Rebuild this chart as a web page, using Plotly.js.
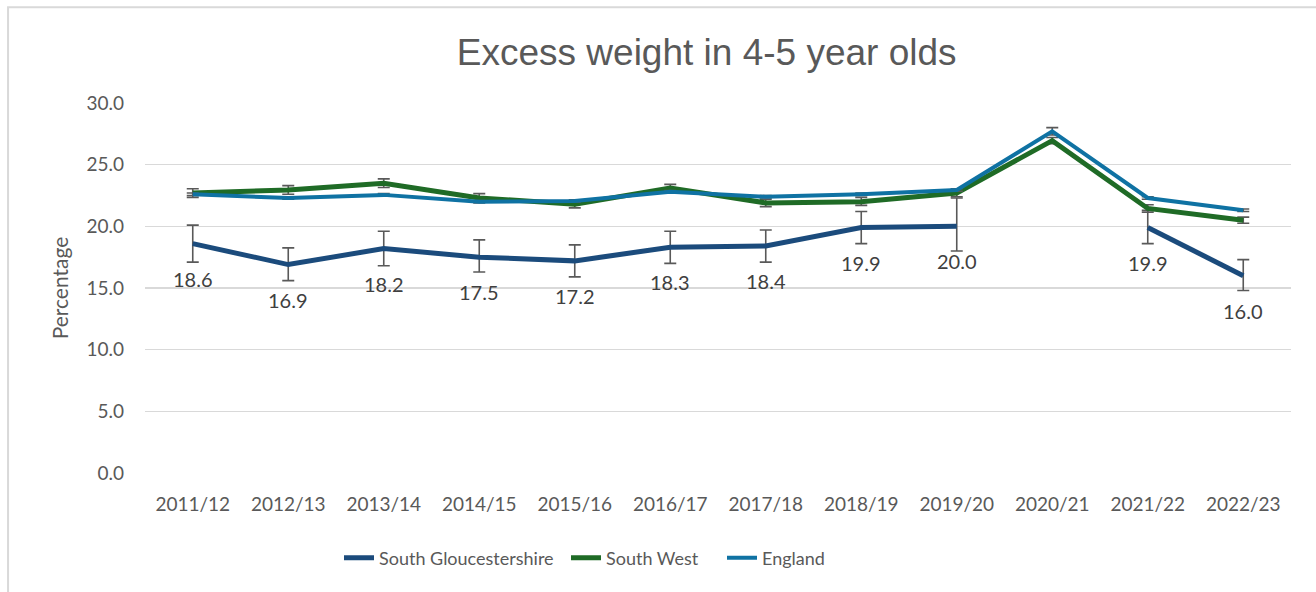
<!DOCTYPE html>
<html>
<head>
<meta charset="utf-8">
<script src="https://cdn.plot.ly/plotly-3.0.1.min.js"></script>
<style>
  html, body { margin: 0; padding: 0; background: #ffffff; }
  #chart { width: 1316px; height: 592px; }
</style>
</head>
<body>
<div id="chart"></div>
<script>
const categories = ["2011/12","2012/13","2013/14","2014/15","2015/16","2016/17","2017/18","2018/19","2019/20","2020/21","2021/22","2022/23"];

const southGlos = [18.6, 16.9, 18.2, 17.5, 17.2, 18.3, 18.4, 19.9, 20.0, null, 19.9, 16.0];
const southGlosUpper = [20.1, 18.25, 19.6, 18.9, 18.5, 19.6, 19.7, 21.2, 22.3, null, 21.3, 17.3];
const southGlosLower = [17.1, 15.6, 16.8, 16.3, 15.9, 17.0, 17.1, 18.6, 18.0, null, 18.6, 14.8];

const southWest = [22.7, 22.95, 23.5, 22.3, 21.8, 23.1, 21.9, 22.0, 22.7, 26.95, 21.45, 20.5];
const southWestUpper = [23.05, 23.3, 23.85, 22.65, 22.1, 23.4, 22.2, 22.35, 23.0, 27.2, 21.75, 20.75];
const southWestLower = [22.35, 22.6, 23.15, 21.95, 21.5, 22.8, 21.6, 21.7, 22.4, 26.7, 21.15, 20.25];

const england = [22.6, 22.3, 22.55, 22.0, 22.05, 22.8, 22.4, 22.6, 22.95, 27.7, 22.3, 21.3];
const englandUpper = [22.7, 22.4, 22.65, 22.1, 22.15, 22.9, 22.5, 22.7, 23.05, 28.0, 22.4, 21.4];
const englandLower = [22.5, 22.2, 22.45, 21.9, 21.95, 22.7, 22.3, 22.5, 22.85, 27.4, 22.2, 21.2];

const seriesNames = ["South Gloucestershire", "South West", "England"];
const yTicks = [0, 5, 10, 15, 20, 25, 30];

function errs(vals, up, lo) {
  return {
    type: 'data', symmetric: false,
    array: vals.map((v, i) => v == null ? null : +(up[i] - v).toFixed(3)),
    arrayminus: vals.map((v, i) => v == null ? null : +(v - lo[i]).toFixed(3)),
    color: '#595959', thickness: 1.6, width: 6
  };
}

const baseFont = 'Lato, "Open Sans", sans-serif';

const traces = [
  {
    x: categories, y: southGlos, name: seriesNames[0], type: 'scatter', mode: 'lines',
    line: { color: '#1b4b7c', width: 5 }, connectgaps: false, legend: 'legend',
    error_y: errs(southGlos, southGlosUpper, southGlosLower)
  },
  {
    x: categories, y: southWest, name: seriesNames[1], type: 'scatter', mode: 'lines',
    line: { color: '#1f6b26', width: 5 }, legend: 'legend2',
    error_y: errs(southWest, southWestUpper, southWestLower)
  },
  {
    x: categories, y: england, name: seriesNames[2], type: 'scatter', mode: 'lines',
    line: { color: '#0f72a3', width: 4 }, legend: 'legend3',
    error_y: errs(england, englandUpper, englandLower)
  }
];

const annotations = [];
categories.forEach((c, i) => {
  if (southGlos[i] != null) {
    annotations.push({
      x: c, y: southGlos[i], xref: 'x', yref: 'y',
      text: southGlos[i].toFixed(1), showarrow: false, yshift: -35,
      font: { family: baseFont, size: 20, color: '#404040' }
    });
  }
});

function legendAt(px) {
  return {
    orientation: 'h', x: (px - 145) / 1146, xanchor: 'left', y: -0.23, yanchor: 'middle',
    font: { family: baseFont, size: 18, color: '#595959' },
    bgcolor: 'rgba(0,0,0,0)', itemwidth: 30
  };
}

const layout = {
  width: 1316, height: 592,
  paper_bgcolor: '#ffffff', plot_bgcolor: '#ffffff',
  margin: { l: 145, r: 25, t: 103, b: 119 },
  title: {
    text: 'Excess weight in 4-5 year olds',
    font: { family: '"Liberation Sans", Arial, sans-serif', size: 37, color: '#595959' },
    x: 0.537, xanchor: 'center', y: 0.912, yanchor: 'middle'
  },
  xaxis: {
    type: 'category', range: [-0.5, 11.5], fixedrange: true,
    showgrid: false, zeroline: false, showline: false, ticks: '',
    ticklabelstandoff: 18,
    tickfont: { family: baseFont, size: 19, color: '#595959' }
  },
  yaxis: {
    range: [0, 30], tickvals: yTicks, ticktext: yTicks.map(v => v.toFixed(1)),
    showgrid: true, gridcolor: '#d9d9d9', gridwidth: 1.5, zeroline: false, showline: false,
    ticks: '', ticklabelstandoff: 20,
    tickfont: { family: baseFont, size: 19, color: '#595959' },
    title: { text: 'Percentage', standoff: 12, font: { family: baseFont, size: 21, color: '#595959' } }
  },
  showlegend: true,
  legend: legendAt(339),
  legend2: legendAt(566),
  legend3: legendAt(722),
  annotations: annotations,
  shapes: [{
    type: 'rect', xref: 'paper', yref: 'paper',
    x0: -0.1195, x1: 1.3, y0: -0.6, y1: 1.259,
    line: { color: '#d9d9d9', width: 2 }, fillcolor: 'rgba(0,0,0,0)', layer: 'below'
  }]
};

Plotly.newPlot('chart', traces, layout, { displayModeBar: false, staticPlot: true });
</script>
</body>
</html>
